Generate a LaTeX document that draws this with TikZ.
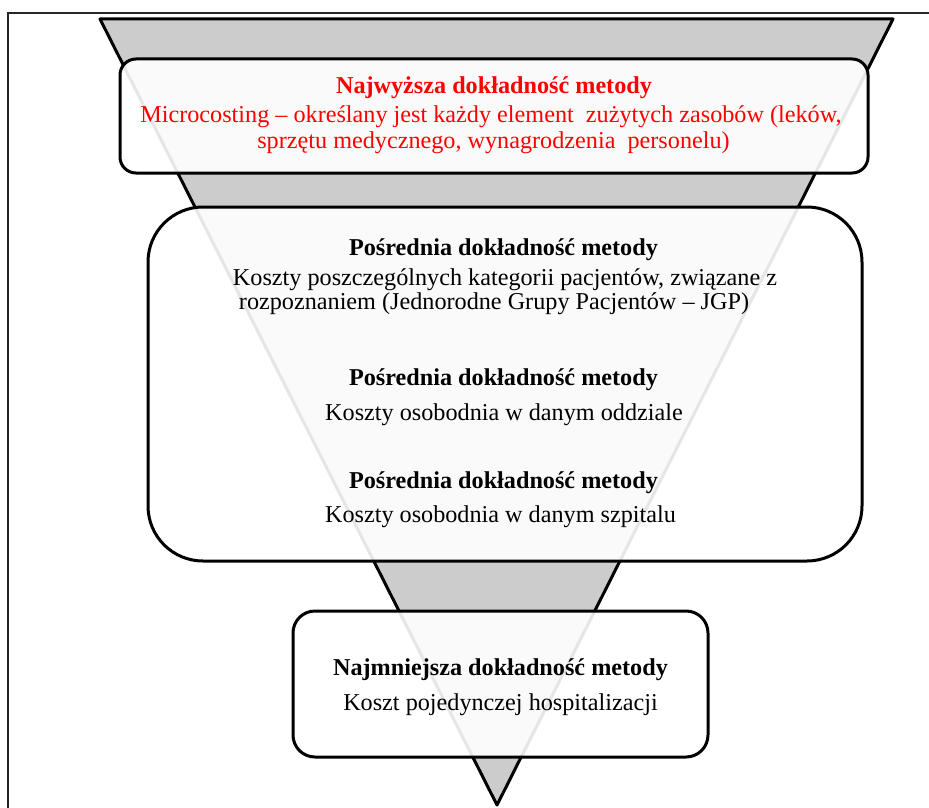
\documentclass[tikz,border=0pt]{standalone}
\usepackage{fontspec}
\setmainfont{Liberation Serif}
\begin{document}
\begin{tikzpicture}[x=1pt,y=-1pt,
  boxstyle/.style={draw=black,line width=3pt,fill=white,fill opacity=0.9,rectangle,inner sep=0pt},
  lbl/.style={anchor=base,inner sep=0pt,font=\fontsize{24.2}{26}\selectfont},
  lblb/.style={lbl,font=\fontsize{24.2}{26}\selectfont\bfseries},
  redtxt/.style={text=red}]
\useasboundingbox (0,0) rectangle (929,808);
\fill[white] (0,0) rectangle (929,808);
% frame
\coordinate (fb) at (8,808);
\coordinate (fc) at (8,13);
\coordinate (fr) at (929,13);
\draw[line width=1.3pt,draw=black!85] (fb) -- (fc) -- (fr);
% funnel
\coordinate (tl) at (100,19);
\coordinate (tr) at (893,19);
\coordinate (ap) at (497,805);
\draw[line width=3pt,fill=black!20,line join=round] (tl) -- (tr) -- (ap) -- cycle;
% boxes
\node[boxstyle,rounded corners=16pt,minimum width=748pt,minimum height=114pt] (top) at (494,116) {};
\node[boxstyle,rounded corners=55pt,minimum width=714pt,minimum height=354pt] (mid) at (505,384) {};
\node[boxstyle,rounded corners=22pt,minimum width=415pt,minimum height=146pt] (bot) at (500.5,684) {};
% texts
\node[lblb,redtxt] (t1) at (494,93) {Najwyższa dokładność metody};
\node[lbl,redtxt] (t2) at (491,122) {Microcosting – określany jest każdy element~ zużytych zasobów (leków,};
\node[lbl,redtxt] (t3) at (493.5,148) {sprzętu medycznego, wynagrodzenia~ personelu)};
\node[lblb] (t4) at (503.5,255) {Pośrednia dokładność metody};
\node[lbl] (t5) at (505,285) {Koszty poszczególnych kategorii pacjentów, związane z};
\node[lbl] (t6) at (494,309) {rozpoznaniem (Jednorodne Grupy Pacjentów – JGP)};
\node[lblb] (t7) at (503.5,385) {Pośrednia dokładność metody};
\node[lbl] (t8) at (504,420) {Koszty osobodnia w danym oddziale};
\node[lblb] (t9) at (503.5,488) {Pośrednia dokładność metody};
\node[lbl] (t10) at (500.5,522) {Koszty osobodnia w danym szpitalu};
\node[lblb] (t11) at (500.5,675) {Najmniejsza dokładność metody};
\node[lbl] (t12) at (500.5,710) {Koszt pojedynczej hospitalizacji};
\end{tikzpicture}
\end{document}
